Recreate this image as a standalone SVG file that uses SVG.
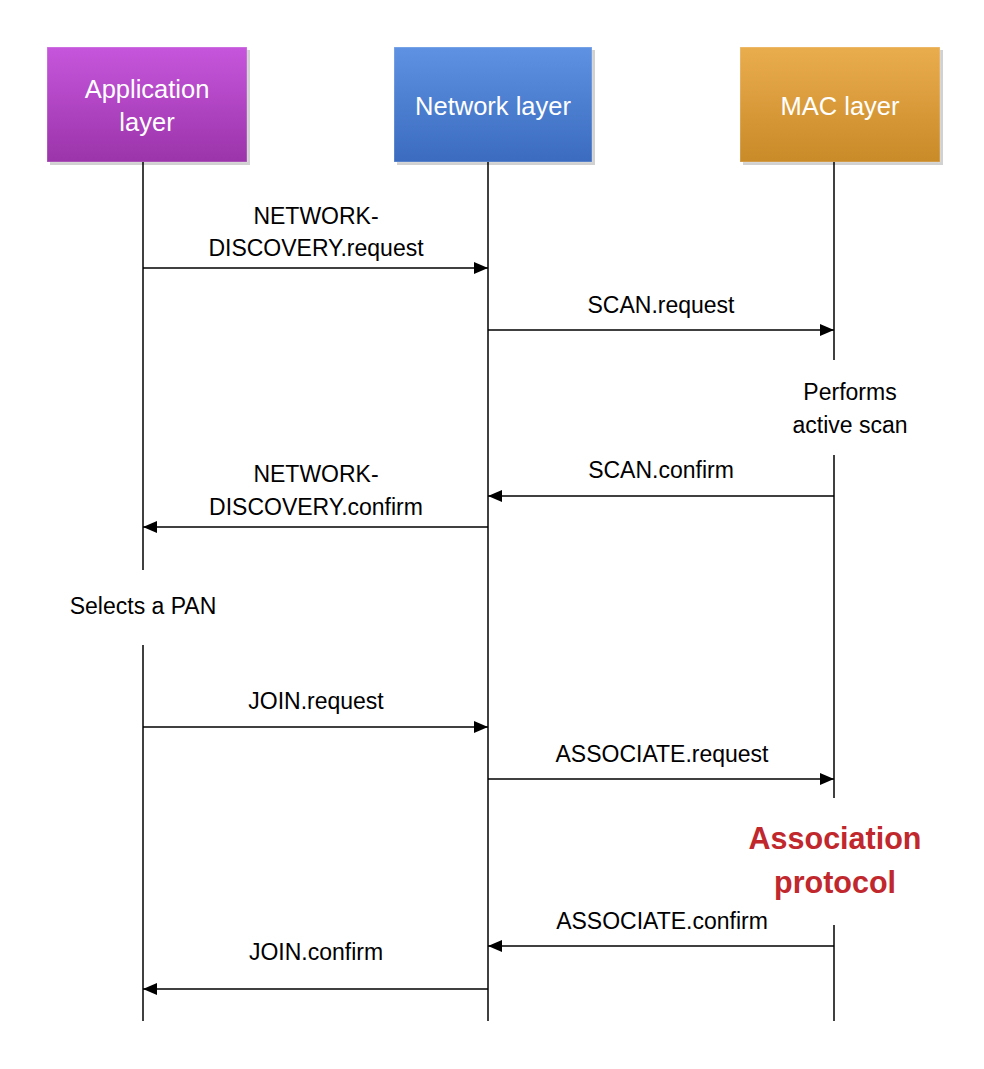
<svg xmlns="http://www.w3.org/2000/svg" width="984" height="1069" viewBox="0 0 984 1069">
<defs>
<linearGradient id="gPurple" x1="0" y1="0" x2="0" y2="1">
<stop offset="0" stop-color="#c656dc"/><stop offset="1" stop-color="#9b34aa"/>
</linearGradient>
<linearGradient id="gBlue" x1="0" y1="0" x2="0" y2="1">
<stop offset="0" stop-color="#5f92e2"/><stop offset="1" stop-color="#3a6bbf"/>
</linearGradient>
<linearGradient id="gOrange" x1="0" y1="0" x2="0" y2="1">
<stop offset="0" stop-color="#eaad4e"/><stop offset="1" stop-color="#c98a28"/>
</linearGradient>
<marker id="arr" viewBox="0 0 14 12" refX="14" refY="6" markerWidth="14" markerHeight="12" markerUnits="userSpaceOnUse" orient="auto">
<path d="M0,0 L14,6 L0,12 Z" fill="#000"/>
</marker>
</defs>
<style>
.box{stroke:#ffffff;stroke-opacity:0.3;stroke-width:1}
.shadow{fill:#000;opacity:0.18}
.blabel{font-family:"Liberation Sans",Arial,sans-serif;font-size:25.5px;fill:#fff;text-anchor:middle}
.life{stroke:#000;stroke-width:1.5;fill:none}
.msg{stroke:#000;stroke-width:1.5;fill:none;marker-end:url(#arr)}
.lbl{font-family:"Liberation Sans",Arial,sans-serif;font-size:23px;fill:#000;text-anchor:middle}
.red{font-family:"Liberation Sans",Arial,sans-serif;font-size:30.5px;font-weight:bold;fill:#c0282d;text-anchor:middle}
</style>
<rect width="984" height="1069" fill="#fff"/>
<g id="app">
<rect class="shadow" x="50" y="50" width="200" height="115"/>
<rect class="box" x="47" y="47" width="200" height="115" fill="url(#gPurple)"/>
<text class="blabel" x="147" y="98">Application</text>
<text class="blabel" x="147" y="131">layer</text>
</g>
<g id="network">
<rect class="shadow" x="397" y="50" width="198" height="115"/>
<rect class="box" x="394" y="47" width="198" height="115" fill="url(#gBlue)"/>
<text class="blabel" x="493" y="115">Network layer</text>
</g>
<g id="mac">
<rect class="shadow" x="743" y="50" width="200" height="115"/>
<rect class="box" x="740" y="47" width="200" height="115" fill="url(#gOrange)"/>
<text class="blabel" x="840" y="115">MAC layer</text>
</g>
<g id="lifelines">
<line class="life" x1="143" y1="162" x2="143" y2="570"/>
<line class="life" x1="143" y1="645" x2="143" y2="1021"/>
<line class="life" x1="488" y1="162" x2="488" y2="1021"/>
<line class="life" x1="834" y1="162" x2="834" y2="360"/>
<line class="life" x1="834" y1="455" x2="834" y2="798"/>
<line class="life" x1="834" y1="925" x2="834" y2="1021"/>
</g>
<g id="connectors">
<line class="msg" x1="143" y1="268" x2="488" y2="268"/>
<line class="msg" x1="488" y1="330" x2="834" y2="330"/>
<line class="msg" x1="834" y1="496" x2="488" y2="496"/>
<line class="msg" x1="488" y1="527" x2="143" y2="527"/>
<line class="msg" x1="143" y1="727" x2="488" y2="727"/>
<line class="msg" x1="488" y1="779" x2="834" y2="779"/>
<line class="msg" x1="834" y1="946" x2="488" y2="946"/>
<line class="msg" x1="488" y1="989" x2="143" y2="989"/>
</g>
<g id="labels">
<text class="lbl" x="316" y="224">NETWORK-</text>
<text class="lbl" x="316" y="256">DISCOVERY.request</text>
<text class="lbl" x="661" y="313">SCAN.request</text>
<text class="lbl" x="850" y="400">Performs</text>
<text class="lbl" x="850" y="433">active scan</text>
<text class="lbl" x="661" y="478">SCAN.confirm</text>
<text class="lbl" x="316" y="482">NETWORK-</text>
<text class="lbl" x="316" y="515">DISCOVERY.confirm</text>
<text class="lbl" x="143" y="614">Selects a PAN</text>
<text class="lbl" x="316" y="709">JOIN.request</text>
<text class="lbl" x="662" y="762">ASSOCIATE.request</text>
<text class="red" x="835" y="849">Association</text>
<text class="red" x="835" y="893">protocol</text>
<text class="lbl" x="662" y="929">ASSOCIATE.confirm</text>
<text class="lbl" x="316" y="960">JOIN.confirm</text>
</g>
</svg>
